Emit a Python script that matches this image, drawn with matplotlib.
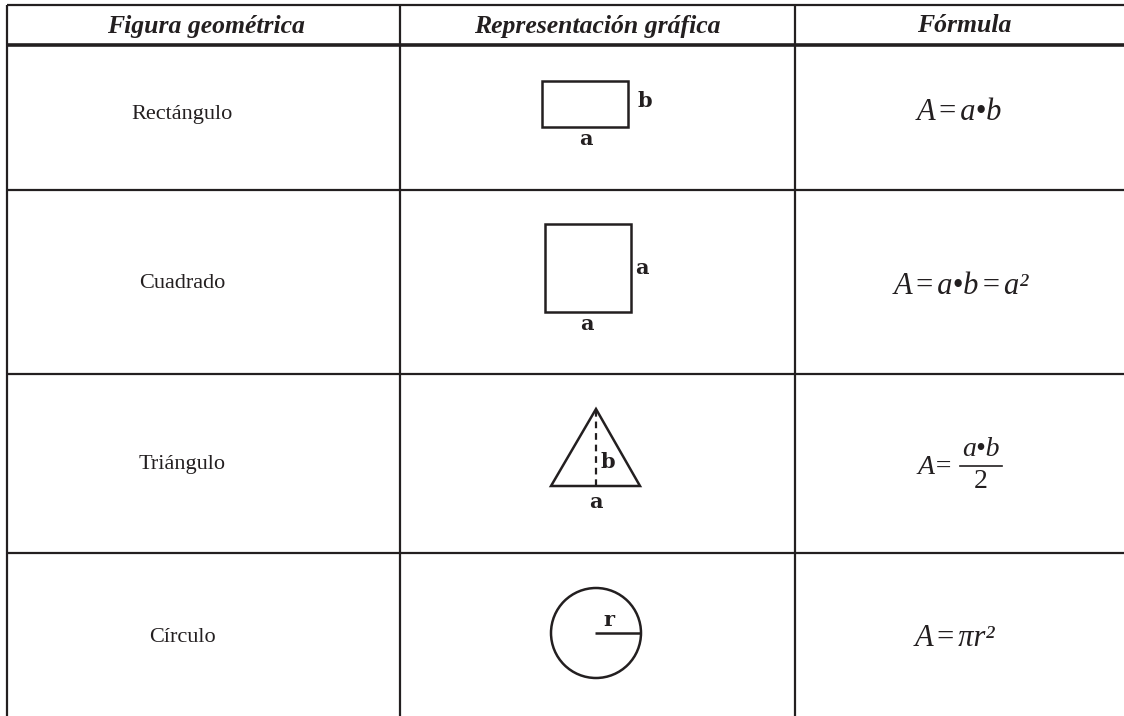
import matplotlib
matplotlib.use("Agg")
import matplotlib.pyplot as plt
from matplotlib.patches import Rectangle, Circle, Polygon

# ---- data ----
headers = ["Figura geométrica", "Representación gráfica", "Fórmula"]
figures = ["Rectángulo", "Cuadrado", "Triángulo", "Círculo"]
formulas = ["A=a•b", "A=a•b=a²", None, "A=πr²"]
frac_num, frac_den = "a•b", "2"
shape_labels = [("a", "b"), ("a", "a"), ("a", "b"), ("r",)]

# ---- layout (pixels) ----
W, H = 1124, 716
col_x = [7, 400, 795, W]
row_y = [5, 45, 190, 374, 553, H]
ink = "#231f20"

fig = plt.figure(figsize=(W / 100, H / 100), dpi=100)
ax = fig.add_axes([0, 0, 1, 1])
ax.set_xlim(0, W)
ax.set_ylim(H, 0)
ax.axis("off")

lw = 1.6
ax.plot([col_x[0], W], [row_y[0], row_y[0]], color=ink, lw=lw, solid_capstyle="butt")
ax.plot([col_x[0], W], [row_y[1], row_y[1]], color=ink, lw=2.6, solid_capstyle="butt")
for y in row_y[2:5]:
    ax.plot([col_x[0], W], [y, y], color=ink, lw=lw, solid_capstyle="butt")
for x in col_x[:3]:
    ax.plot([x, x], [row_y[0], H], color=ink, lw=lw, solid_capstyle="butt")

serif = "Liberation Serif"
header_x = [206, 597, 964]
for i, h in enumerate(headers):
    ax.text(header_x[i], (row_y[0] + row_y[1]) / 2 + 1, h, ha="center", va="center",
            fontfamily=serif, fontstyle="italic", fontweight="bold", fontsize=18.5,
            color=ink)

name_y = [114, 284, 465, 637]
for i, name in enumerate(figures):
    ax.text(182, name_y[i], name, ha="center", va="center", fontfamily=serif,
            fontsize=16, color=ink)

fys = [113, 286, None, 638]
fxs = [959, 961, None, 955]
for i, f in enumerate(formulas):
    if f is None:
        continue
    shown = f.replace("=", "\u200a=\u200a")
    ax.text(fxs[i], fys[i], shown, ha="center", va="center", fontfamily=serif,
            fontstyle="italic", fontsize=22, color=ink)
# fraction formula
ax.text(953, 467, "A=", ha="right", va="center", fontfamily=serif,
        fontstyle="italic", fontsize=20, color=ink)
ax.plot([960, 1002], [466, 466], color=ink, lw=1.2)
ax.text(981, 462, frac_num, ha="center", va="bottom", fontfamily=serif,
        fontstyle="italic", fontsize=20, color=ink)
ax.text(981, 469, frac_den, ha="center", va="top", fontfamily=serif,
        fontsize=20, color=ink)

lbl = dict(fontfamily="DejaVu Serif", fontweight="bold", fontsize=15, color=ink)
slw = 1.8
# rectangle
ax.add_patch(Rectangle((542, 81), 86, 46, fill=False, ec=ink, lw=slw))
ax.text(586, 139, shape_labels[0][0], ha="center", va="center", **lbl)
ax.text(645, 101, shape_labels[0][1], ha="center", va="center", **lbl)
# square
ax.add_patch(Rectangle((545, 224), 86, 88, fill=False, ec=ink, lw=slw))
ax.text(587, 324, shape_labels[1][0], ha="center", va="center", **lbl)
ax.text(642, 268, shape_labels[1][1], ha="center", va="center", **lbl)
# triangle
ax.add_patch(Polygon([(551, 486), (640, 486), (596, 409)], closed=True,
                     fill=False, ec=ink, lw=slw, joinstyle="miter"))
ax.plot([596, 596], [410, 486], color=ink, lw=1.6, ls=(0, (3, 2.2)))
ax.text(596, 502, shape_labels[2][0], ha="center", va="center", **lbl)
ax.text(608, 462, shape_labels[2][1], ha="center", va="center", **lbl)
# circle
ax.add_patch(Circle((596, 633), 45, fill=False, ec=ink, lw=slw))
ax.plot([595, 641], [633, 633], color=ink, lw=slw, solid_capstyle="butt")
ax.text(609, 620, shape_labels[3][0], ha="center", va="center", **lbl)

fig.savefig("out.png", dpi=100, facecolor="white")
